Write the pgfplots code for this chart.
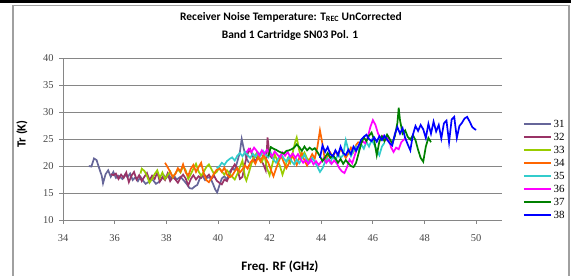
\documentclass[border=0pt]{standalone}
\usepackage{fontspec}
\setmainfont{Liberation Serif}
\newfontfamily\carlito{Carlito}
\usepackage{pgfplots}
\pgfplotsset{compat=1.18}
\definecolor{c31}{RGB}{102,102,153}
\definecolor{c32}{RGB}{153,51,102}
\definecolor{c33}{RGB}{153,204,0}
\definecolor{c34}{RGB}{255,102,0}
\definecolor{c35}{RGB}{51,204,204}
\definecolor{c36}{RGB}{255,0,255}
\definecolor{c37}{RGB}{0,128,0}
\definecolor{c38}{RGB}{0,0,255}
\definecolor{gridc}{RGB}{134,134,134}
\definecolor{framec}{RGB}{160,160,160}
\begin{document}
\begin{tikzpicture}
\useasboundingbox (0bp,0bp) rectangle (571bp,276bp);
\fill[black] (0bp,273bp) rectangle (571bp,276bp);
\draw[framec, line width=1.2bp] (13bp,-2bp) -- (13bp,270.5bp) -- (568.5bp,270.5bp);
\draw[framec, line width=2bp] (568.5bp,271bp) -- (568.5bp,-2bp);
\node[font=\carlito\bfseries\fontsize{11.5}{13}\selectfont] at (291bp,259bp) {Receiver Noise Temperature: T\textsubscript{REC} UnCorrected};
\node[font=\carlito\bfseries\fontsize{11.5}{13}\selectfont] at (290bp,241bp) {Band 1 Cartridge SN03 Pol. 1};
\node[font=\carlito\bfseries\fontsize{12.5}{14}\selectfont, rotate=90] at (22bp,142bp) {Tr (K)};
\node[font=\carlito\bfseries\fontsize{13}{15}\selectfont] at (280bp,9bp) {Freq. RF (GHz)};
\begin{axis}[
  at={(63bp,56bp)}, anchor=south west,
  scale only axis, width=439bp, height=162bp,
  xmin=34, xmax=51, ymin=10, ymax=40,
  xtick={34,36,...,50}, ytick={10,15,...,40},
  axis x line*=bottom, axis y line*=left,
  axis line style={draw=gridc, line width=0.9bp, -},
  ymajorgrids, grid style={draw=gridc, line width=0.9bp},
  tick align=outside, major tick length=4bp,
  tick style={draw=gridc, line width=0.8bp},
  tick label style={font=\fontsize{10.5}{12}\selectfont, text=black!72},
  /pgf/number format/assume math mode=true,
  xticklabel style={yshift=-7bp},
  yticklabel style={xshift=-2bp},
  every axis plot/.append style={line width=1.7bp, no markers},
  legend style={at={(1,0.312)}, anchor=west, xshift=18bp, draw=none, fill=none,
    font=\fontsize{11}{11}\selectfont, row sep=6bp,
    nodes={inner sep=0pt, text height=7bp, text depth=0pt}},
  legend cell align=left,
  legend image code/.code={\draw[#1, line width=1.5bp] (0bp,0bp) -- (27bp,0bp);},
  /tikz/every odd column/.append style={column sep=2bp},
]
\addplot[c31] coordinates {
(35.0,20.0) (35.1,19.9) (35.2,21.4) (35.3,21.1) (35.4,19.6) (35.5,18.2) (35.55,16.8) (35.65,18.5)
(35.75,19.2) (35.85,18.0) (35.95,18.9) (36.05,17.8) (36.15,18.2) (36.3,17.6) (36.4,18.4) (36.5,17.9)
(36.6,18.6) (36.7,17.4) (36.8,17.9) (36.9,17.2) (37.0,18.0) (37.1,17.3) (37.2,16.7) (37.3,17.0)
(37.45,17.6) (37.6,16.7) (37.7,17.0) (37.8,17.5) (37.9,18.3) (38.0,17.8) (38.1,18.4) (38.2,17.6)
(38.3,18.2) (38.4,17.5) (38.55,18.0) (38.7,17.2) (38.8,16.6) (38.9,15.9) (39.0,15.8) (39.1,16.2)
(39.2,16.5) (39.3,17.7) (39.4,18.2) (39.5,17.4) (39.6,17.9) (39.7,17.8) (39.8,16.8) (39.9,15.6)
(39.97,15.1) (40.05,16.3) (40.15,17.7) (40.25,18.1) (40.35,17.5) (40.45,18.9) (40.55,19.6) (40.65,19.2)
(40.75,20.8) (40.85,22.6) (40.92,25.0) (41.0,23.2) (41.1,21.4) (41.2,20.6)
};
\addlegendentry{31}
\addplot[c32] coordinates {
(35.85,18.5) (35.95,18.3) (36.05,18.6) (36.15,17.6) (36.25,18.4) (36.35,17.8) (36.45,18.8) (36.55,17.0)
(36.65,18.2) (36.75,18.9) (36.85,17.5) (36.95,18.3) (37.05,17.2) (37.15,18.0) (37.25,18.7) (37.35,17.4)
(37.45,18.2) (37.55,17.6) (37.65,18.8) (37.75,17.1) (37.85,17.9) (37.95,17.4) (38.05,18.6) (38.15,17.2)
(38.25,18.0) (38.35,17.5) (38.45,16.9) (38.55,17.8) (38.65,18.4) (38.75,17.7) (38.85,16.4) (38.95,17.6)
(39.05,18.3) (39.15,17.5) (39.25,18.1) (39.35,17.8) (39.45,18.6) (39.55,17.9) (39.65,18.4) (39.75,17.6)
(39.85,18.2) (39.95,17.3) (40.05,16.9) (40.15,16.6) (40.25,17.5) (40.35,17.2) (40.45,18.4) (40.55,19.5)
(40.65,20.3) (40.75,19.5) (40.85,17.6) (40.95,18.0) (41.05,20.5) (41.15,22.3) (41.25,23.1) (41.35,21.8)
(41.45,20.7) (41.55,22.0) (41.65,21.2) (41.75,20.4) (41.85,19.2) (41.92,25.3) (42.0,22.0) (42.1,21.4)
};
\addlegendentry{32}
\addplot[c33] coordinates {
(37.0,18.6) (37.05,19.5) (37.15,19.1) (37.25,18.2) (37.35,16.9) (37.45,17.6) (37.55,18.5) (37.65,19.2)
(37.75,17.8) (37.85,18.8) (37.95,17.6) (38.05,18.3) (38.15,19.0) (38.25,17.9) (38.35,18.6) (38.45,19.4)
(38.55,18.8) (38.65,20.0) (38.75,19.2) (38.85,17.6) (38.95,18.5) (39.05,19.5) (39.15,20.4) (39.25,19.0)
(39.35,18.2) (39.45,18.9) (39.55,19.8) (39.65,20.3) (39.75,19.4) (39.85,18.5) (39.95,18.9) (40.05,19.6)
(40.15,19.0) (40.25,18.4) (40.35,19.2) (40.45,18.6) (40.55,18.0) (40.65,17.5) (40.75,18.5) (40.85,19.8)
(40.95,21.0) (41.05,17.9) (41.1,17.3) (41.2,18.8) (41.3,20.5) (41.4,21.6) (41.5,22.4) (41.6,21.5)
(41.7,20.8) (41.8,21.9) (41.9,19.6) (42.0,18.3) (42.1,20.2) (42.2,22.1) (42.3,21.0) (42.4,20.0)
(42.5,18.4) (42.6,19.8) (42.7,21.4) (42.8,20.6) (42.9,22.6) (43.0,24.6) (43.05,25.3) (43.15,22.8)
(43.25,21.6) (43.35,22.5) (43.45,21.4) (43.55,21.0)
};
\addlegendentry{33}
\addplot[c34] coordinates {
(37.95,20.6) (38.05,19.8) (38.15,18.9) (38.25,18.0) (38.35,18.5) (38.45,19.6) (38.55,19.0) (38.65,20.3)
(38.75,18.8) (38.85,18.2) (38.95,19.5) (39.05,20.2) (39.15,18.9) (39.25,19.8) (39.35,20.6) (39.45,18.6)
(39.55,17.4) (39.65,17.0) (39.75,17.8) (39.85,18.6) (39.95,19.3) (40.05,19.6) (40.15,18.9) (40.25,19.7)
(40.35,18.4) (40.45,17.9) (40.55,18.2) (40.65,19.0) (40.75,19.6) (40.85,18.8) (40.95,19.4) (41.05,20.1)
(41.15,19.5) (41.25,20.6) (41.35,21.2) (41.45,20.4) (41.55,21.6) (41.65,20.8) (41.75,22.0) (41.85,21.4)
(41.95,20.6) (42.05,19.3) (42.15,18.1) (42.25,19.5) (42.35,20.8) (42.45,21.9) (42.55,20.7) (42.65,19.6)
(42.75,20.5) (42.85,22.0) (42.95,21.3) (43.05,20.2) (43.15,21.5) (43.25,22.4) (43.35,21.0) (43.45,20.1)
(43.55,21.2) (43.65,22.2) (43.75,21.4) (43.85,23.5) (43.95,26.6) (44.05,24.0) (44.15,20.8) (44.25,21.8)
(44.35,22.5) (44.45,21.6) (44.55,22.8) (44.65,21.9) (44.75,23.2) (44.85,22.4) (44.95,21.5) (45.05,22.3)
(45.15,23.4) (45.25,22.6) (45.35,23.9) (45.45,24.5)
};
\addlegendentry{34}
\addplot[c35] coordinates {
(39.95,19.6) (40.05,19.9) (40.15,20.6) (40.25,20.2) (40.35,20.9) (40.45,21.3) (40.55,21.6) (40.65,21.0)
(40.75,21.9) (40.85,22.4) (40.95,21.8) (41.05,22.6) (41.15,22.0) (41.25,21.5) (41.35,22.3) (41.45,21.7)
(41.55,22.5) (41.65,21.9) (41.75,22.8) (41.85,22.1) (41.95,21.6) (42.05,22.4) (42.15,21.2) (42.25,20.6)
(42.35,21.5) (42.45,22.2) (42.55,21.4) (42.65,20.8) (42.75,21.7) (42.85,20.9) (42.95,20.3) (43.05,21.2)
(43.15,20.5) (43.25,21.4) (43.35,22.1) (43.45,21.0) (43.55,20.6) (43.65,21.5) (43.75,20.8) (43.85,19.9)
(43.95,18.9) (44.05,19.6) (44.15,20.8) (44.25,21.4) (44.35,20.6) (44.45,21.8) (44.55,21.0) (44.65,22.3)
(44.75,21.5) (44.85,22.0) (44.95,24.8) (45.05,23.0) (45.15,21.8) (45.25,22.8) (45.35,23.6) (45.45,22.9)
(45.55,24.0) (45.65,23.2) (45.75,24.5) (45.85,23.6) (45.95,24.8) (46.05,24.0) (46.15,23.0) (46.25,22.0)
(46.35,23.6) (46.45,24.3)
};
\addlegendentry{35}
\addplot[c36] coordinates {
(41.1,22.5) (41.2,23.2) (41.3,22.6) (41.4,23.4) (41.5,22.8) (41.6,22.0) (41.7,22.9) (41.8,22.2)
(41.9,23.0) (42.0,22.4) (42.1,21.8) (42.2,22.7) (42.3,22.1) (42.4,21.6) (42.5,22.5) (42.6,21.9)
(42.7,22.6) (42.8,21.7) (42.9,22.3) (43.0,21.5) (43.1,22.2) (43.2,21.3) (43.3,20.6) (43.4,21.1)
(43.5,20.4) (43.6,21.2) (43.7,20.3) (43.8,20.9) (43.9,20.2) (44.0,20.8) (44.1,21.5) (44.2,20.6)
(44.3,21.2) (44.4,20.4) (44.5,21.0) (44.6,20.5) (44.7,19.6) (44.8,19.0) (44.9,18.7) (45.0,19.8)
(45.1,21.2) (45.2,20.5) (45.3,22.0) (45.4,23.4) (45.5,24.0) (45.6,24.6) (45.7,24.2) (45.8,25.3)
(45.9,27.2) (46.0,28.5) (46.1,27.6) (46.2,26.0) (46.3,25.2) (46.4,25.6) (46.5,24.8) (46.6,25.4)
(46.7,23.5) (46.8,22.6) (46.9,23.4) (47.0,23.1) (47.1,24.4) (47.2,24.9) (47.3,25.0)
};
\addlegendentry{36}
\addplot[c37] coordinates {
(41.95,21.8) (42.05,23.5) (42.15,23.2) (42.25,23.0) (42.35,22.7) (42.45,22.5) (42.55,22.3) (42.65,22.8)
(42.75,22.9) (42.85,23.1) (42.95,23.4) (43.05,24.0) (43.15,23.5) (43.25,22.8) (43.35,23.6) (43.45,22.9)
(43.55,23.4) (43.65,23.0) (43.75,23.3) (43.85,22.6) (43.95,21.8) (44.05,20.9) (44.15,21.6) (44.25,22.4)
(44.35,21.5) (44.45,22.0) (44.55,21.4) (44.65,20.6) (44.75,21.3) (44.85,20.4) (44.95,21.1) (45.05,20.5)
(45.15,20.0) (45.25,19.8) (45.35,20.6) (45.45,22.4) (45.55,24.2) (45.65,25.3) (45.75,24.6) (45.85,25.6)
(45.95,26.2) (46.05,24.8) (46.15,22.0) (46.25,24.5) (46.35,25.5) (46.45,24.6) (46.55,25.8) (46.65,25.0)
(46.75,24.2) (46.85,25.5) (46.95,28.0) (47.0,30.8) (47.05,28.5) (47.15,26.0) (47.25,26.6) (47.35,25.4)
(47.45,24.9) (47.55,25.7) (47.65,24.8) (47.75,23.0) (47.85,21.5) (47.95,20.8) (48.05,23.6) (48.15,25.2)
(48.25,24.4)
};
\addlegendentry{37}
\addplot[c38] coordinates {
(43.95,21.5) (44.05,23.8) (44.15,22.6) (44.25,23.5) (44.35,22.2) (44.45,21.8) (44.55,22.9) (44.65,22.0)
(44.75,23.6) (44.85,22.4) (44.95,22.0) (45.05,23.0) (45.15,22.2) (45.25,23.6) (45.35,22.8) (45.45,23.8)
(45.55,24.9) (45.65,25.4) (45.75,25.8) (45.85,25.0) (45.95,24.6) (46.05,25.3) (46.15,24.5) (46.25,25.5)
(46.35,24.8) (46.45,25.6) (46.55,24.9) (46.65,24.2) (46.75,23.8) (46.85,25.9) (46.95,27.2) (47.05,26.0)
(47.15,27.0) (47.25,25.2) (47.35,24.0) (47.45,22.9) (47.55,25.8) (47.65,27.4) (47.75,26.5) (47.85,27.6)
(47.95,26.8) (48.05,25.2) (48.15,27.8) (48.25,26.0) (48.35,28.2) (48.45,26.4) (48.55,27.6) (48.65,25.1)
(48.75,27.9) (48.85,28.4) (48.95,24.4) (49.05,28.6) (49.15,29.1) (49.25,25.2) (49.35,27.4) (49.45,28.0)
(49.55,28.8) (49.65,29.1) (49.75,28.2) (49.85,27.2) (49.95,26.8) (50.0,26.7)
};
\addlegendentry{38}
\end{axis}
\end{tikzpicture}
\end{document}
